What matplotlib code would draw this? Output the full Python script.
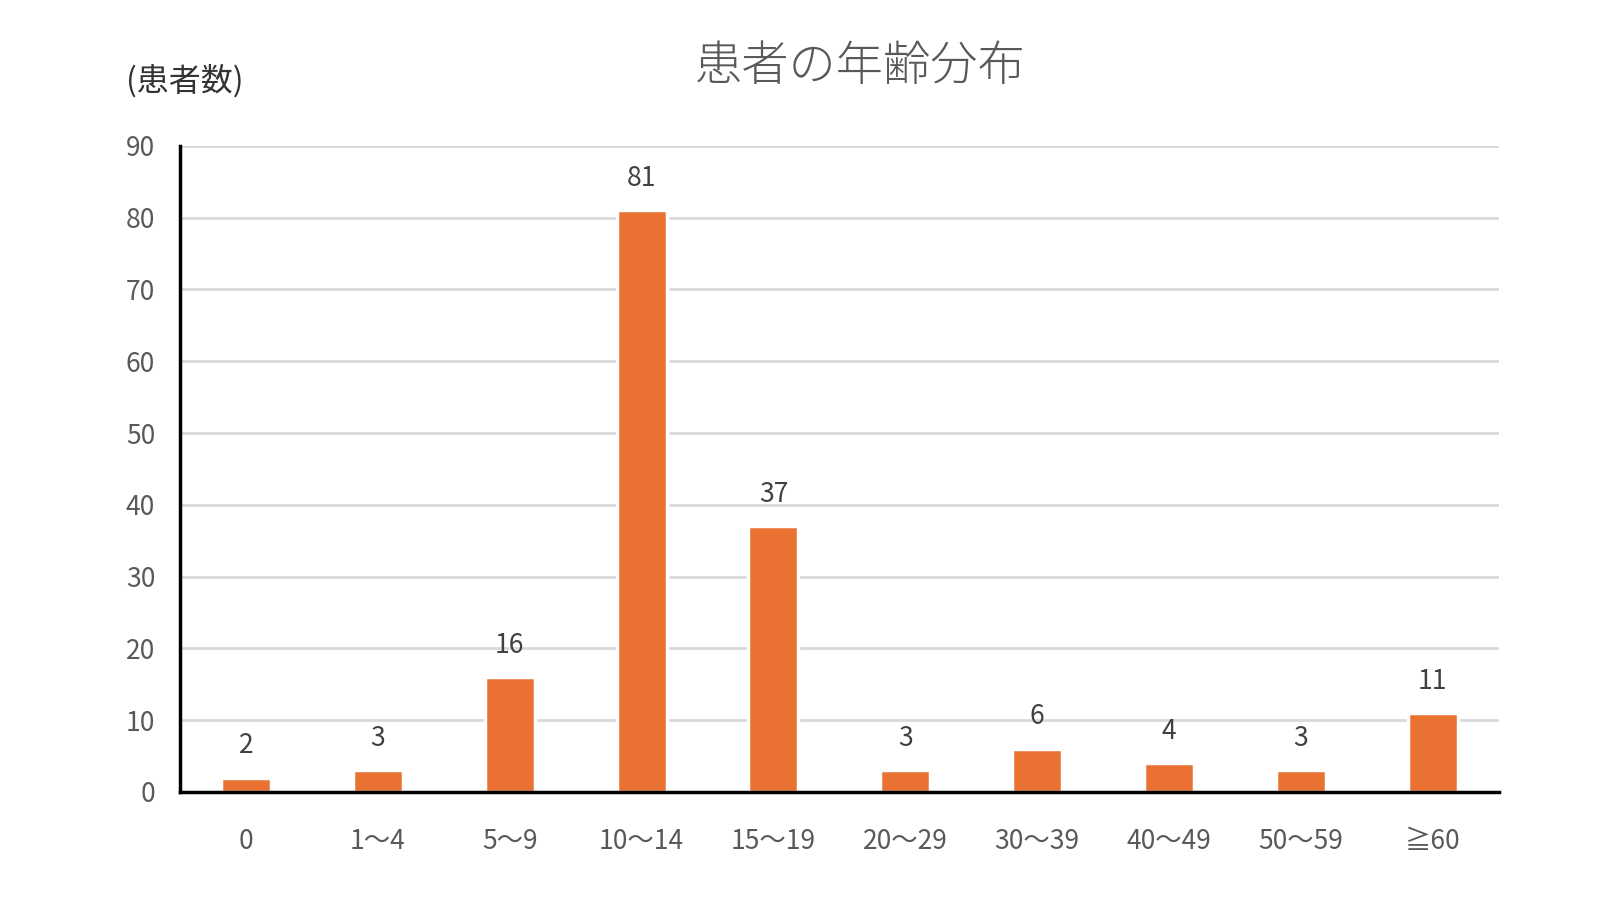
import matplotlib
matplotlib.use('Agg')
import matplotlib.pyplot as plt

plt.rcParams['font.family'] = ['Noto Sans CJK JP', 'DejaVu Sans']

AGE_GROUPS = ['0', '1～4', '5～9', '10～14', '15～19', '20～29',
              '30～39', '40～49', '50～59', '≧60']
PATIENTS = [2, 3, 16, 81, 37, 3, 6, 4, 3, 11]
Y_TICKS = [0, 10, 20, 30, 40, 50, 60, 70, 80, 90]

C_BAR = '#E97132'
C_TEXT = '#595959'

fig = plt.figure(figsize=(16, 9), dpi=100, facecolor='white')
ax = fig.add_axes([0.1126, 0.120, 0.824, 0.718])

x = range(len(AGE_GROUPS))
bars = ax.bar(x, PATIENTS, width=0.38, color=C_BAR, edgecolor='white',
              linewidth=2.5, zorder=3)

for b, v in zip(bars, PATIENTS):
    ax.annotate(str(v), xy=(b.get_x() + b.get_width() / 2, v),
                xytext=(0, 23), textcoords='offset points',
                ha='center', va='center', fontsize=19, color='#404040')

ax.set_xlim(-0.5, len(AGE_GROUPS) - 0.5)
ax.set_ylim(0, 90)
ax.set_yticks(Y_TICKS)
ax.set_xticks(list(x))
ax.set_xticklabels(AGE_GROUPS)
ax.tick_params(axis='both', length=0, labelsize=19, labelcolor=C_TEXT)
ax.tick_params(axis='x', pad=26)
ax.tick_params(axis='y', pad=18)

ax.grid(axis='y', color='#d9d9d9', linewidth=2, zorder=0)
ax.set_axisbelow(True)
for s in ['top', 'right']:
    ax.spines[s].set_visible(False)
for s in ['left', 'bottom']:
    ax.spines[s].set_color('black')
    ax.spines[s].set_linewidth(2.5)
    ax.spines[s].set_zorder(4)

fig.text(0.5376, 0.926, '患者の年齢分布', ha='center', va='center',
         fontsize=34, color=C_TEXT, fontweight='light')
fig.text(0.079, 0.910, '(患者数)', ha='left', va='center',
         fontsize=23, color='#333333')

fig.savefig('out.png', dpi=100, facecolor='white')
